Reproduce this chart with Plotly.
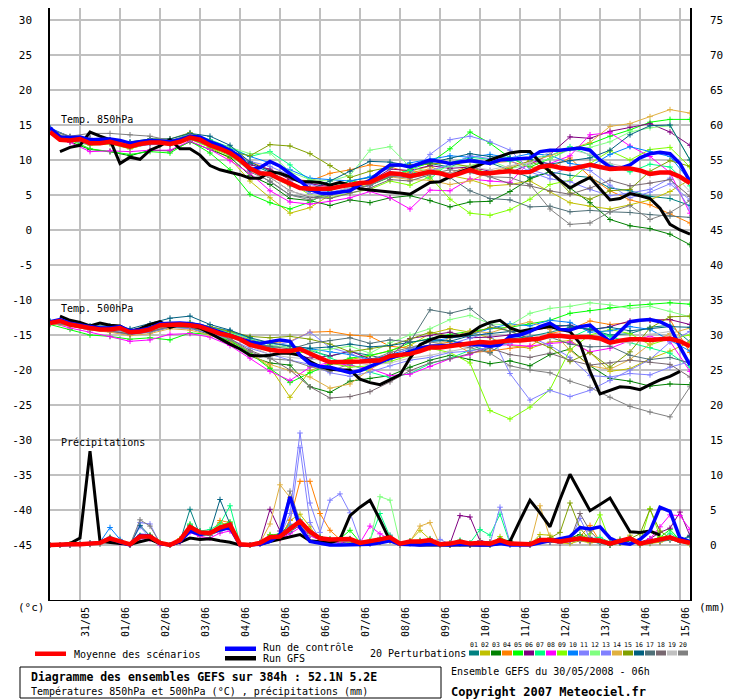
import plotly.graph_objects as go

# ---- time axis: 0..384h from 30/05 06h, 6h steps for main runs, 12h for perturbations
HOURS_6H = list(range(0, 385, 6))
HOURS_12H = list(range(0, 385, 12))
DAY_TICKS = list(range(18, 385, 24))
DAY_LABELS = ["31/05", "01/06", "02/06", "03/06", "04/06", "05/06", "06/06", "07/06",
              "08/06", "09/06", "10/06", "11/06", "12/06", "13/06", "14/06", "15/06"]

TEMP_TICKS = list(range(-45, 31, 5))
PRECIP_TICKS = list(range(0, 76, 5))

MEMBER_COLORS = ["#008080", "#c0c000", "#008000", "#ff8000", "#00ff00", "#800080", "#00ff80",
                 "#ff00ff", "#80ff00", "#0080ff", "#8080ff", "#80ff80", "#8080ff", "#e0b040",
                 "#80a000", "#006080", "#507078", "#786870", "#c0c0c0", "#808080"]

# ---- 850 hPa temperature (°C)
t850_mean = [14.0, 12.9, 12.8, 13.0, 12.4, 12.4, 12.6, 12.3, 11.9, 12.3,
             12.5, 12.5, 12.3, 12.6, 13.2, 12.9, 12.1, 11.6, 11.0, 10.0,
             8.8, 8.1, 8.0, 7.3, 6.7, 6.0, 5.9, 5.9, 5.9, 6.2,
             6.5, 6.7, 6.8, 7.4, 8.1, 8.0, 7.7, 8.0, 8.3, 8.1,
             7.7, 8.1, 8.6, 8.1, 8.1, 8.3, 8.4, 8.2, 8.3, 9.0,
             9.2, 8.9, 8.7, 9.0, 9.3, 9.0, 8.7, 8.8, 8.8, 8.5,
             8.0, 8.2, 8.2, 7.6, 6.7]
t850_control = [14.6, 13.3, 13.2, 13.3, 12.9, 12.9, 13.0, 12.8, 12.4, 12.6,
                12.8, 12.7, 12.6, 12.9, 13.4, 13.3, 12.6, 12.1, 11.4, 10.5,
                8.6, 8.9, 9.8, 9.1, 8.1, 7.0, 5.8, 5.3, 5.2, 5.4,
                5.6, 6.5, 7.1, 8.3, 9.3, 9.3, 9.0, 9.5, 10.0, 9.8,
                9.5, 9.7, 9.9, 9.7, 9.5, 10.0, 10.1, 10.1, 10.3, 11.2,
                11.4, 11.4, 11.5, 11.7, 11.4, 10.0, 9.0, 8.8, 9.3, 10.3,
                10.9, 11.1, 10.9, 9.5, 6.9]
t850_gfs = [None, 11.2, 11.8, 12.1, 14.0, 13.4, 12.9, 9.5, 10.4, 10.1,
            11.4, 12.0, 12.9, 11.6, 11.6, 10.7, 9.2, 8.6, 8.3, 7.9,
            7.4, 7.4, 8.3, 8.1, 7.6, 6.9, 6.9, 6.8, 6.4, 6.8,
            6.4, 5.9, 5.7, 5.6, 5.5, 5.3, 5.1, 6.0, 6.8, 6.9,
            7.6, 8.3, 8.8, 9.3, 10.0, 10.5, 11.0, 11.2, 11.2, 9.7,
            8.3, 7.1, 6.0, 6.8, 7.5, 5.9, 4.3, 4.5, 5.2, 4.9,
            4.5, 3.1, 0.8, 0.0, -0.6]
t850_members = [
    [14.3, 13.0, 12.8, 12.9, 12.3, 12.7, 12.6, 13.5, 12.4, 11.6, 9.5, 8.2, 6.4, 5.5, 5.8, 7.0, 7.5,
     9.2, 9.0, 9.5, 9.0, 10.2, 9.6, 8.5, 7.5, 8.3, 7.8, 7.5, 6.0, 5.6, 4.8, 4.5, 3.5],
    [14.1, 12.7, 12.3, 12.5, 11.6, 12.4, 12.4, 13.0, 11.8, 10.2, 7.0, 4.6, 2.4, 3.2, 5.0, 6.2, 6.5,
     7.6, 8.4, 9.1, 7.8, 7.2, 6.3, 6.5, 7.0, 5.5, 3.9, 3.4, 3.0, 3.6, 4.3, 5.5, 7.2],
    [14.0, 12.6, 11.5, 11.2, 10.6, 11.4, 11.3, 12.6, 11.5, 10.4, 7.8, 6.5, 4.5, 4.2, 3.5, 4.3, 3.9,
     4.6, 4.9, 4.2, 3.3, 4.0, 4.1, 5.5, 7.3, 8.3, 6.0, 3.9, 1.5, 0.6, 0.2, -0.6, -2.1],
    [14.2, 13.1, 12.7, 12.5, 12.0, 12.3, 12.5, 13.1, 12.3, 11.5, 9.8, 8.5, 7.3, 7.0, 8.1, 8.6, 9.3,
     9.0, 8.2, 8.7, 8.1, 9.2, 9.6, 9.8, 9.0, 8.9, 10.3, 7.6, 5.6, 4.3, 3.6, 2.3, 1.0],
    [14.0, 12.9, 11.6, 11.2, 10.8, 11.2, 11.0, 12.7, 11.0, 8.6, 5.1, 3.9, 3.0, 4.0, 5.5, 7.1, 6.4,
     7.5, 8.7, 9.6, 11.6, 14.0, 12.4, 10.3, 9.0, 10.2, 11.6, 12.3, 13.4, 14.3, 15.4, 15.8, 15.8],
    [14.5, 13.3, 13.1, 12.9, 12.2, 12.6, 12.5, 13.4, 12.4, 11.3, 9.3, 8.7, 7.2, 6.6, 6.2, 6.4, 6.9,
     8.7, 8.5, 9.2, 8.8, 9.0, 8.4, 8.2, 9.4, 10.8, 13.3, 13.1, 14.1, 14.7, 15.2, 14.0, 12.1],
    [14.4, 13.0, 12.8, 12.6, 12.4, 12.6, 12.6, 13.8, 12.9, 11.8, 10.5, 11.2, 9.3, 7.1, 6.6, 6.5, 6.7,
     7.9, 8.5, 7.3, 9.6, 10.4, 10.1, 9.8, 10.3, 10.6, 11.9, 10.7, 9.3, 8.3, 9.4, 9.0, 6.3],
    [14.3, 12.5, 11.2, 11.3, 11.2, 11.4, 11.4, 12.7, 11.5, 9.9, 8.1, 5.6, 4.0, 3.7, 4.1, 4.6, 5.5,
     4.6, 3.0, 5.7, 5.6, 7.3, 7.0, 6.8, 9.8, 9.5, 10.6, 13.6, 13.9, 12.0, 10.5, 8.2, 2.4],
    [14.0, 12.8, 12.1, 12.3, 11.6, 12.4, 12.1, 13.0, 11.8, 10.6, 8.6, 7.8, 6.8, 5.0, 4.6, 5.3, 5.8,
     7.0, 6.4, 7.6, 4.4, 2.4, 2.1, 2.9, 4.4, 6.5, 7.1, 9.5, 11.3, 10.0, 11.5, 11.8, 9.0],
    [14.6, 13.3, 13.0, 12.9, 12.5, 12.8, 12.7, 13.5, 12.8, 11.7, 10.5, 9.6, 8.6, 7.4, 7.2, 7.0, 7.6,
     8.9, 9.6, 10.1, 10.6, 10.4, 10.8, 10.3, 10.9, 10.7, 9.5, 9.1, 10.8, 11.9, 11.2, 10.5, 7.0],
    [14.2, 12.9, 12.5, 12.8, 12.3, 12.5, 12.3, 13.1, 12.1, 11.2, 9.8, 9.1, 7.8, 6.5, 5.9, 6.4, 6.6,
     8.3, 8.0, 10.8, 12.9, 13.4, 12.6, 11.4, 8.6, 7.8, 9.0, 8.5, 6.4, 4.6, 5.4, 6.6, 4.3],
    [14.3, 13.2, 12.9, 12.7, 12.3, 12.7, 12.6, 13.4, 12.5, 11.8, 10.9, 11.0, 8.3, 7.2, 7.0, 7.8, 11.4,
     11.9, 9.0, 8.3, 9.1, 9.2, 9.9, 8.8, 9.3, 10.2, 11.5, 11.8, 12.6, 14.0, 14.6, 14.9, 10.0],
    [14.1, 12.8, 12.2, 12.4, 11.8, 12.2, 12.2, 13.1, 12.0, 10.9, 9.0, 8.0, 6.9, 5.2, 5.4, 6.0, 6.3,
     7.9, 7.5, 8.5, 9.3, 10.6, 10.2, 10.0, 8.3, 7.3, 6.9, 5.8, 4.9, 5.3, 5.8, 7.4, 3.0],
    [14.3, 13.0, 12.6, 12.7, 12.1, 12.5, 12.4, 13.2, 12.1, 11.0, 8.8, 7.7, 6.3, 6.0, 6.1, 6.4, 7.0,
     7.6, 7.2, 7.1, 6.5, 7.0, 8.3, 9.0, 9.8, 10.6, 11.6, 12.5, 14.8, 15.2, 16.2, 17.2, 16.7],
    [14.4, 13.2, 12.9, 12.7, 12.4, 13.0, 13.0, 13.9, 12.7, 11.2, 10.6, 12.2, 12.0, 10.9, 9.2, 7.5, 8.4,
     9.0, 9.3, 9.4, 9.6, 9.0, 8.0, 8.8, 9.9, 8.3, 5.3, 4.4, 5.6, 5.8, 8.4, 9.9, 9.1],
    [14.5, 13.2, 12.9, 12.8, 12.6, 13.0, 13.0, 13.8, 13.4, 12.1, 9.7, 8.4, 6.5, 5.8, 7.0, 8.4, 9.8,
     9.7, 9.2, 9.6, 10.2, 10.9, 10.5, 10.2, 10.1, 9.4, 9.9, 10.3, 11.4, 13.6, 14.9, 15.0, 10.0],
    [14.2, 12.9, 12.6, 12.6, 12.1, 12.6, 12.4, 13.2, 12.2, 11.0, 8.6, 6.9, 5.0, 4.6, 5.1, 5.7, 6.4,
     7.6, 8.0, 8.3, 7.5, 5.6, 4.5, 4.3, 3.3, 3.4, 2.6, 2.8, 2.6, 2.5, 2.2, 2.0, 1.8],
    [14.1, 12.8, 12.4, 12.5, 11.9, 12.4, 12.2, 13.0, 12.0, 10.8, 8.6, 7.5, 5.6, 4.7, 4.5, 5.3, 6.0,
     7.2, 7.0, 7.9, 8.2, 8.4, 7.6, 6.6, 6.3, 5.6, 5.1, 6.0, 7.1, 6.3, 6.7, 7.2, 4.8],
    [14.2, 13.2, 12.9, 12.8, 12.3, 12.7, 12.6, 13.3, 12.2, 11.1, 8.9, 7.6, 5.5, 4.9, 5.2, 6.1, 6.8,
     8.0, 7.7, 8.6, 8.1, 9.0, 8.6, 9.2, 9.6, 11.2, 11.5, 10.8, 9.5, 8.9, 7.8, 8.4, 5.5],
    [14.4, 13.4, 13.8, 13.8, 13.6, 13.4, 12.8, 13.6, 12.3, 11.0, 8.3, 7.0, 5.0, 4.3, 4.9, 5.6, 6.4,
     7.7, 7.4, 8.0, 8.6, 8.2, 7.6, 7.5, 6.5, 3.0, 0.8, 1.0, 2.6, 3.5, 1.5, 2.5, 4.2],
]

# ---- 500 hPa temperature (°C)
t500_mean = [-13.3, -13.0, -13.5, -13.8, -14.0, -14.2, -14.2, -14.0, -14.6, -14.5,
             -14.2, -13.6, -13.5, -13.5, -13.6, -13.8, -14.3, -14.8, -15.1, -15.6,
             -16.4, -16.8, -17.1, -17.3, -17.3, -17.0, -17.7, -18.3, -18.9, -18.9,
             -18.8, -18.8, -18.7, -18.6, -18.0, -17.8, -17.7, -17.3, -16.8, -16.8,
             -16.6, -16.4, -16.2, -16.0, -16.1, -15.9, -15.8, -15.8, -15.7, -15.5,
             -15.1, -15.1, -15.3, -15.3, -15.3, -15.5, -16.1, -15.8, -15.6, -15.6,
             -15.7, -15.6, -15.5, -15.9, -16.6]
t500_control = [-13.1, -12.8, -13.3, -13.6, -13.8, -14.0, -14.0, -13.8, -14.4, -14.3,
                -14.0, -13.4, -13.3, -13.3, -13.4, -13.6, -14.1, -14.6, -15.0, -15.5,
                -16.0, -16.2, -16.0, -15.7, -15.9, -17.9, -19.1, -19.5, -19.6, -20.0,
                -20.4, -20.1, -19.5, -18.8, -18.3, -17.9, -17.4, -16.9, -16.6, -16.6,
                -16.5, -16.2, -16.4, -16.4, -16.6, -16.4, -15.2, -15.0, -14.5, -13.8,
                -13.3, -14.2, -14.3, -13.8, -13.6, -14.8, -15.9, -14.5, -13.1, -12.9,
                -12.8, -13.1, -13.8, -16.7, -19.3]
t500_gfs = [None, -12.3, -12.9, -13.2, -13.7, -13.3, -13.6, -13.7, -14.5, -14.1,
            -13.5, -13.1, -13.9, -13.5, -13.6, -14.0, -14.8, -15.5, -16.3, -17.0,
            -17.9, -18.0, -17.9, -17.6, -17.6, -17.9, -18.8, -19.5, -19.9, -20.0,
            -20.0, -21.3, -21.8, -22.1, -21.4, -20.7, -18.3, -16.4, -15.7, -15.2,
            -15.2, -15.1, -14.8, -13.8, -13.2, -12.9, -14.0, -14.5, -14.2, -14.0,
            -13.8, -14.2, -14.5, -16.2, -20.2, -23.4, -22.9, -22.4, -22.5, -22.8,
            -22.1, -21.4, -20.9, -20.2, None]
t500_members = [
    [-13.2, -13.4, -14.0, -14.3, -14.6, -14.0, -13.4, -13.3, -14.1, -14.8, -16.0, -16.8, -16.5, -17.2,
     -18.0, -17.4, -17.9, -18.6, -17.1, -15.9, -15.8, -16.4, -17.5, -15.6, -15.2, -14.6, -13.9, -14.2,
     -15.0, -14.8, -13.9, -13.6, -16.0],
    [-13.4, -13.7, -14.2, -14.4, -14.9, -14.5, -13.7, -13.9, -14.7, -15.7, -17.5, -19.6, -23.9, -20.1,
     -19.0, -18.5, -18.0, -17.2, -16.5, -14.8, -14.1, -14.6, -15.4, -16.5, -16.9, -16.0, -15.8, -17.5,
     -20.2, -19.8, -18.4, -17.3, -16.0],
    [-13.3, -13.6, -14.2, -14.5, -14.8, -14.6, -13.9, -14.0, -14.9, -15.9, -18.0, -19.0, -19.3, -22.4,
     -23.2, -21.6, -21.2, -20.8, -19.6, -18.6, -17.9, -18.5, -19.1, -18.7, -19.4, -17.8, -17.0, -19.4,
     -21.2, -21.6, -22.3, -22.0, -22.1],
    [-13.3, -13.5, -13.9, -14.1, -14.5, -14.1, -13.4, -13.4, -14.0, -14.6, -15.7, -16.1, -15.9, -14.6,
     -14.5, -15.0, -15.2, -16.6, -16.9, -16.5, -16.0, -17.5, -17.3, -16.9, -16.6, -14.8, -14.2, -13.0,
     -13.5, -13.2, -12.9, -12.8, -17.5],
    [-13.5, -14.2, -15.0, -15.2, -15.6, -15.4, -15.7, -14.7, -14.9, -15.8, -17.6, -19.8, -21.8, -20.4,
     -19.2, -18.3, -17.9, -17.3, -16.1, -15.5, -14.9, -14.5, -14.1, -13.9, -13.4, -12.9, -11.9, -11.5,
     -11.1, -10.8, -10.6, -10.4, -10.6],
    [-13.2, -13.4, -13.9, -14.0, -14.5, -14.1, -13.6, -13.5, -14.2, -15.1, -16.4, -17.0, -17.7, -18.3,
     -18.0, -17.3, -18.4, -18.1, -15.5, -15.1, -14.6, -15.4, -15.3, -15.0, -14.4, -13.9, -13.6, -14.3,
     -13.8, -13.0, -12.9, -12.8, -13.5],
    [-13.1, -13.3, -13.8, -14.0, -14.4, -14.0, -13.3, -13.3, -13.9, -14.6, -15.4, -16.8, -17.5, -16.9,
     -18.3, -19.2, -20.3, -21.1, -20.5, -19.1, -18.3, -17.2, -16.8, -16.0, -15.5, -15.2, -15.4, -14.1,
     -15.2, -16.1, -16.8, -17.6, -19.6],
    [-13.2, -14.0, -14.6, -15.2, -15.9, -15.7, -14.9, -14.8, -15.3, -16.5, -18.3, -20.2, -21.5, -19.6,
     -18.9, -19.3, -19.8, -20.8, -20.6, -19.5, -18.4, -17.8, -16.5, -16.4, -16.6, -16.2, -16.0, -17.4,
     -16.9, -15.8, -15.2, -15.9, -20.2],
    [-13.3, -13.5, -14.1, -14.2, -14.7, -14.3, -13.6, -13.7, -14.3, -15.2, -16.3, -17.1, -17.6, -17.4,
     -19.0, -19.6, -19.4, -18.8, -17.9, -16.9, -17.5, -19.0, -25.8, -27.0, -25.3, -22.8, -17.1, -15.0,
     -14.2, -14.8, -16.4, -15.5, -15.0],
    [-13.0, -13.3, -13.8, -13.9, -14.3, -13.9, -13.2, -13.2, -13.8, -14.4, -15.6, -16.2, -16.5, -17.0,
     -17.4, -17.8, -18.5, -17.8, -17.0, -15.9, -15.4, -15.0, -14.1, -13.4, -13.7, -12.9, -13.2, -14.6,
     -14.4, -13.8, -14.2, -15.8, -17.3],
    [-13.3, -13.6, -14.1, -14.3, -14.7, -14.3, -13.6, -13.7, -14.3, -15.0, -16.1, -16.6, -16.0, -14.6,
     -16.8, -17.6, -18.8, -18.1, -16.9, -16.5, -16.3, -15.5, -14.6, -20.5, -24.3, -22.9, -23.8, -22.9,
     -21.5, -20.0, -18.5, -16.0, -14.5],
    [-13.1, -13.3, -13.9, -14.1, -14.5, -14.1, -13.4, -13.5, -14.0, -14.7, -15.5, -16.4, -16.8, -17.3,
     -17.0, -16.6, -17.6, -16.1, -15.0, -14.1, -12.8, -12.2, -13.4, -13.6, -11.9, -11.2, -10.9, -10.4,
     -10.7, -11.2, -10.9, -11.6, -12.4],
    [-13.4, -13.7, -14.3, -14.5, -15.0, -14.6, -13.9, -14.1, -14.8, -15.6, -16.9, -17.8, -18.6, -19.2,
     -20.4, -20.9, -20.3, -19.4, -18.6, -18.2, -17.5, -17.3, -16.8, -16.2, -15.3, -16.5, -18.2, -20.8,
     -21.0, -20.5, -20.7, -19.6, -18.8],
    [-13.4, -13.7, -14.3, -14.6, -15.1, -14.8, -14.1, -14.3, -15.0, -16.0, -17.8, -19.2, -20.1, -21.0,
     -22.6, -22.0, -19.9, -18.4, -17.6, -16.9, -15.4, -14.4, -14.7, -13.8, -13.1, -14.2, -17.2, -19.4,
     -19.9, -18.5, -16.3, -14.8, -14.0],
    [-13.2, -13.4, -13.9, -14.0, -14.4, -14.0, -13.3, -13.2, -13.8, -14.5, -15.2, -15.4, -15.2, -15.6,
     -16.3, -17.4, -17.0, -16.5, -15.6, -14.6, -15.2, -14.9, -13.9, -14.4, -15.6, -16.8, -18.8, -17.5,
     -19.6, -17.4, -14.0, -12.4, -12.3],
    [-13.1, -13.2, -13.7, -13.7, -14.1, -13.4, -12.6, -12.3, -13.5, -14.3, -15.4, -16.1, -16.6, -16.9,
     -16.7, -16.3, -16.7, -16.5, -16.0, -15.6, -15.9, -15.1, -14.8, -14.5, -14.4, -13.6, -13.7, -14.2,
     -13.9, -14.4, -14.1, -13.8, -13.9],
    [-13.2, -13.4, -13.9, -14.1, -14.6, -14.2, -13.5, -13.6, -14.2, -15.0, -16.2, -16.6, -17.0, -16.2,
     -15.8, -15.4, -16.2, -15.7, -16.0, -11.4, -11.9, -11.2, -13.5, -14.5, -15.5, -15.3, -16.3, -16.7,
     -16.6, -17.9, -18.5, -18.2, -19.0],
    [-13.3, -13.6, -14.2, -14.4, -14.9, -14.5, -13.8, -13.9, -14.6, -15.5, -17.2, -18.3, -20.0, -22.4,
     -24.0, -23.8, -23.1, -21.7, -20.1, -19.0, -18.4, -17.6, -16.9, -17.8, -18.2, -17.6, -18.6, -19.3,
     -19.0, -18.6, -18.9, -19.2, -21.0],
    [-13.2, -13.5, -14.0, -14.2, -14.6, -14.2, -13.5, -13.6, -14.3, -15.2, -16.6, -17.8, -18.2, -18.5,
     -18.7, -18.8, -19.3, -19.0, -18.3, -17.9, -17.3, -16.8, -16.3, -16.0, -15.7, -15.5, -15.2, -15.4,
     -16.0, -16.1, -14.9, -14.5, -16.6],
    [-13.3, -13.5, -14.0, -14.1, -14.6, -14.2, -13.6, -13.7, -14.5, -15.6, -17.4, -18.4, -18.6, -19.5,
     -20.2, -19.1, -18.6, -17.5, -16.8, -16.0, -16.4, -16.8, -17.6, -19.4, -20.0, -20.4, -21.6, -22.5,
     -23.9, -25.2, -26.0, -26.7, -22.4],
]

# ---- 6h precipitation (mm, right axis)
precip_mean = [0, 0.1, 0.1, 0.1, 0.2, 0.3, 0.95, 0.5, 0.1, 1.2,
               1.2, 0.3, 0, 0.7, 2.6, 1.8, 1.7, 2.5, 2.9, 0.1,
               0, 0.3, 1.1, 1.2, 2.4, 3.4, 1.9, 0.95, 0.8, 0.85,
               0.85, 0.3, 0.5, 0.8, 1.1, 0.2, 0.5, 0.5, 0.7, 0.1,
               0.2, 0.5, 0.2, 0.3, 0.2, 0.7, 0.2, 0.1, 0.1, 0.7,
               0.7, 0.5, 0.7, 0.95, 0.7, 0.6, 0.2, 0.6, 0.95, 0.2,
               0.5, 0.7, 1.1, 0.6, 0.3]
precip_control = [0, 0, 0, 0.1, 0.2, 0.3, 1.0, 0.4, 0, 1.4,
                  1.3, 0.2, 0, 0.5, 2.0, 1.5, 1.8, 2.2, 2.5, 0,
                  0, 0.1, 0.5, 1.5, 6.9, 2.5, 0.5, 0.2, 0, 0,
                  0, 0, 0.1, 0.3, 0.6, 0.1, 0, 0, 0.1, 0,
                  0, 0.1, 0, 0, 0, 0.2, 0, 0, 0, 0.3,
                  0.6, 0.8, 1.2, 2.5, 2.3, 2.6, 1.0, 0.3, 0.1, 0.8,
                  2.0, 5.4, 4.8, 1.0, 0.5]
precip_gfs = [None, 0, 0.2, 1.0, 13.4, 0.5, 0.3, 0.2, 0.1, 0.5,
              0.8, 0.2, 0, 0.4, 1.0, 0.8, 0.9, 0.6, 0.4, 0,
              0, 0.1, 0.5, 0.8, 1.2, 1.5, 0.6, 0.5, 0.3, 0.8,
              4.2, 5.4, 6.4, 3.6, 0.6, 0.3, 0.1, 0, 0, 0,
              0, 0.1, 0.1, 0, 0, 0.2, 0.5, 3.5, 6.4, 4.6,
              2.6, 6.5, 10.1, 7.5, 4.9, 5.8, 6.7, 4.3, 1.9, 1.8,
              2.0, 1.4, None, None, None]
precip_members = [
    [0, 0, 0, 0.1, 0.2, 0.3, 0.8, 0.4, 0, 1.0, 1.1, 0.2, 0,
     0.5, 5.1, 1.4, 1.5, 2.3, 2.6, 0, 0, 0.2, 0.8, 1.0, 1.8, 2.9,
     1.5, 0.6, 0.4, 0.5, 0.6, 0.2, 0.3, 1.0, 1.4, 0, 0.3, 0.4, 0.9,
     0, 0, 0.3, 0, 0.2, 0, 0.5, 0, 0, 0, 0.6, 0.4, 0.3,
     0.5, 0.7, 0.5, 0.3, 0, 0.4, 0.6, 0, 0.4, 0.5, 0.7, 0.6, 1.4],
    [0, 0, 0.1, 0, 0.1, 0.2, 0.9, 0.6, 0, 1.3, 0.9, 0.1, 0,
     0.9, 2.1, 1.2, 1.5, 3.2, 2.8, 0, 0, 0.2, 1.5, 1.0, 3.5, 4.4,
     2.6, 0.5, 0.3, 0.6, 0.4, 0, 0.4, 0.6, 0.8, 0, 0.6, 2.1, 0.8,
     0, 0, 0.4, 0, 0.1, 0, 1.2, 0.2, 0, 0, 1.5, 1.4, 0.3,
     0.2, 0.6, 0.3, 0.5, 0, 0.3, 1.4, 0, 0.2, 0.4, 0.9, 0.5, 0],
    [0, 0, 0, 0.1, 0.2, 0.3, 1.1, 0.6, 0, 1.2, 1.4, 0.3, 0,
     0.6, 2.5, 2.0, 1.8, 2.4, 2.2, 0, 0, 0.3, 0.9, 1.4, 2.7, 3.1,
     1.5, 1.2, 0.6, 0.3, 0.5, 0.1, 0.2, 0.4, 0.6, 0, 0.2, 0.3, 0.4,
     0, 0, 0.2, 0, 0.3, 0.4, 0.8, 0.6, 0, 0, 0.8, 0.9, 0.7,
     1.0, 1.5, 0.8, 0.4, 0, 0.3, 0.6, 0.2, 0.4, 0.9, 1.2, 0.5, 0.2],
    [0, 0, 0.1, 0.1, 0.2, 0.4, 0.9, 0.4, 0, 1.2, 1.1, 0.2, 0,
     0.7, 2.4, 1.6, 1.5, 3.5, 3.2, 0, 0, 0.2, 1.0, 0.9, 3.6, 9.1,
     9.1, 4.5, 2.1, 0.8, 0.9, 0.2, 0.3, 0.4, 0.6, 0, 0.4, 0.3, 0.7,
     0, 0, 0.3, 0.2, 0.5, 0.3, 0.6, 0.1, 0, 0, 0.5, 0.9, 0.4,
     0.6, 1.2, 2.8, 0.5, 0.2, 0.5, 0.9, 0.3, 0.4, 0.5, 0.8, 0.4, 0.3],
    [0, 0, 0, 0.1, 0.1, 0.2, 0.8, 0.5, 0, 1.3, 1.2, 0.3, 0,
     0.6, 3.0, 1.9, 1.6, 2.7, 3.3, 0, 0, 0.3, 1.4, 1.6, 2.9, 3.0,
     1.8, 1.1, 0.7, 0.9, 2.1, 0.4, 0.6, 0.5, 0.7, 0, 0.4, 0.6, 0.5,
     0, 0.2, 0.4, 0, 0.2, 0.1, 0.9, 0.3, 0, 0, 0.7, 0.6, 0.5,
     0.8, 1.1, 0.6, 0.5, 0.3, 0.6, 0.8, 0.4, 0.6, 1.1, 2.2, 0.7, 0.4],
    [0, 0, 0, 0.1, 0.2, 0.3, 0.8, 0.4, 0, 1.1, 1.3, 0.3, 0,
     0.6, 2.8, 1.5, 1.7, 2.2, 2.4, 0, 0, 0.3, 5.1, 2.0, 2.3, 2.6,
     1.4, 0.8, 0.6, 0.7, 0.6, 0.3, 0.2, 0.5, 0.8, 0, 0.3, 0.5, 0.5,
     0, 0.2, 4.2, 4.0, 0.6, 0.4, 0.6, 0.2, 0, 0.1, 0.9, 0.6, 0.5,
     1.0, 0.6, 1.1, 0.4, 0.3, 0.8, 0.8, 0.4, 0.9, 1.8, 2.4, 4.7, 1.3],
    [0, 0, 0, 0.1, 0.2, 0.3, 1.0, 0.6, 0, 1.4, 1.3, 0.4, 0,
     0.8, 2.9, 2.0, 2.2, 3.0, 5.6, 0.2, 0, 0.4, 1.2, 1.4, 2.3, 3.6,
     1.9, 0.9, 0.8, 0.7, 0.8, 0.3, 0.7, 4.5, 1.2, 0, 0.5, 0.4, 0.6,
     0, 0.3, 0.7, 0.3, 2.2, 1.4, 4.4, 0.2, 0, 0.2, 0.8, 0.9, 0.7,
     0.9, 1.2, 0.9, 1.1, 0.4, 0.7, 1.0, 0.3, 0.6, 0.8, 1.7, 0.8, 0.4],
    [0, 0, 0, 0, 0.1, 0.2, 0.6, 0.3, 0, 0.9, 0.8, 0, 0,
     0.4, 1.8, 1.2, 1.0, 1.7, 2.0, 0, 0, 0.1, 0.7, 0.9, 1.6, 2.5,
     1.3, 0.7, 0.5, 0.4, 0.5, 0.3, 2.7, 1.6, 0.8, 0, 0.6, 0.5, 0.4,
     0, 0.1, 0.3, 0, 0.2, 0.1, 0.5, 0.1, 0, 0, 0.5, 0.4, 0.3,
     0.5, 0.8, 0.5, 0.6, 0.2, 0.5, 0.8, 0.2, 0.9, 2.6, 4.3, 4.2, 2.2],
    [0, 0, 0.1, 0.1, 0.2, 0.3, 1.0, 0.5, 0, 1.3, 1.4, 0.4, 0,
     0.8, 2.7, 1.9, 1.8, 2.6, 3.0, 0.1, 0, 0.3, 1.2, 1.5, 2.5, 3.2,
     2.0, 1.1, 0.9, 0.9, 0.8, 0.3, 0.5, 0.9, 1.0, 0, 0.6, 0.7, 0.8,
     0, 0.3, 0.6, 0.2, 0.4, 0.3, 0.8, 0.3, 0, 0.2, 0.9, 0.8, 0.6,
     0.8, 1.0, 1.6, 4.3, 0.5, 0.8, 1.0, 0.3, 5.2, 1.2, 1.1, 0.7, 0.4],
    [0, 0, 0.1, 0.2, 0.3, 0.4, 2.5, 0.8, 0, 1.1, 1.2, 0.3, 0,
     0.7, 2.4, 1.6, 1.7, 2.4, 2.6, 0, 0, 0.2, 0.9, 1.1, 2.0, 3.3,
     1.6, 0.9, 0.7, 0.6, 0.7, 0.2, 0.4, 0.6, 0.9, 0, 0.3, 0.4, 0.6,
     0, 0.1, 0.4, 0.1, 0.2, 0.1, 0.6, 0.2, 0, 0, 0.6, 0.5, 0.4,
     0.6, 0.8, 0.6, 0.5, 0.2, 0.6, 1.0, 0.2, 0.4, 0.6, 1.0, 0.5, 0.2],
    [0, 0, 0, 0.1, 0.2, 0.3, 0.9, 0.5, 0, 3.2, 3.0, 0.2, 0,
     0.6, 2.3, 1.7, 1.6, 2.3, 2.6, 0, 0, 0.2, 1.0, 1.2, 4.5, 16.0,
     6.0, 1.8, 6.4, 7.3, 4.6, 0.6, 0.4, 0.6, 0.8, 0, 0.3, 0.5, 0.6,
     0, 0.2, 0.5, 0.1, 0.3, 0.2, 5.4, 0.4, 0, 0.1, 0.7, 0.6, 0.5,
     0.5, 3.8, 0.9, 0.6, 0.2, 0.5, 0.9, 0.2, 0.4, 0.6, 1.0, 0.5, 0.3],
    [0, 0, 0, 0.1, 0.2, 0.3, 0.9, 0.5, 0, 1.3, 1.2, 0.3, 0,
     0.7, 2.6, 1.8, 1.8, 2.6, 3.0, 0, 0, 0.3, 1.1, 1.3, 2.3, 3.2,
     1.7, 0.9, 0.8, 0.9, 0.8, 0.3, 0.5, 6.9, 6.4, 0.2, 0.6, 0.6, 0.7,
     0, 0.2, 0.5, 0.2, 0.3, 0.2, 0.7, 0.3, 0, 0.1, 0.8, 0.7, 0.5,
     0.7, 0.9, 0.7, 0.6, 0.3, 0.7, 1.0, 0.3, 0.5, 0.7, 1.1, 0.6, 0.3],
    [0, 0, 0, 0.1, 0.2, 0.3, 0.8, 0.4, 0, 2.6, 1.0, 0.2, 0,
     0.5, 2.1, 1.5, 1.4, 2.1, 2.4, 0, 0, 0.2, 0.9, 1.0, 3.0, 13.9,
     3.2, 0.8, 0.6, 0.5, 0.6, 0.2, 0.4, 0.5, 0.7, 0, 0.4, 0.3, 0.6,
     0.8, 0.1, 0.4, 0.1, 0.2, 0.1, 0.6, 0.2, 0, 0, 0.5, 0.5, 0.4,
     0.6, 0.8, 0.6, 0.5, 0.2, 0.5, 0.8, 0.2, 0.4, 0.6, 0.9, 0.5, 0.2],
    [0, 0, 0, 0.1, 0.2, 0.3, 0.9, 0.5, 0, 1.2, 1.2, 0.3, 0,
     0.6, 2.6, 1.8, 1.6, 2.5, 2.9, 0, 0, 0.3, 3.0, 8.6, 6.8, 3.0,
     1.5, 0.8, 0.7, 0.6, 0.7, 0.2, 0.4, 0.6, 0.8, 0, 0.5, 2.7, 3.2,
     0, 0.1, 0.4, 0.1, 0.3, 0.2, 0.7, 0.2, 0, 0, 5.6, 1.0, 0.4,
     0.6, 0.8, 0.6, 0.5, 0.2, 0.6, 0.9, 0.2, 0.4, 0.6, 1.0, 0.5, 0.2],
    [0, 0, 0.1, 0.1, 0.2, 0.3, 0.8, 0.4, 0, 1.1, 1.2, 0.2, 0,
     0.6, 2.4, 1.7, 1.6, 2.4, 2.7, 0, 0, 0.2, 1.0, 1.2, 2.2, 3.1,
     1.6, 0.9, 0.7, 0.7, 0.7, 0.3, 0.4, 0.6, 0.9, 0, 0.4, 0.5, 0.6,
     0, 0.2, 0.4, 0.1, 0.2, 0.1, 0.6, 0.2, 0, 0.1, 0.7, 1.0, 1.8,
     6.0, 2.4, 0.7, 0.5, 0.3, 0.6, 0.9, 1.6, 5.1, 2.0, 1.0, 0.5, 0.3],
    [0, 0, 0, 0.1, 0.2, 0.3, 1.0, 0.5, 0, 2.8, 1.3, 0.3, 0,
     0.7, 2.5, 1.9, 1.8, 6.5, 3.0, 0.1, 0, 0.3, 1.1, 1.3, 2.4, 3.0,
     1.8, 1.0, 0.8, 0.8, 0.9, 0.4, 0.5, 0.7, 0.9, 0, 0.5, 0.5, 0.7,
     0, 0.2, 0.5, 0.2, 0.3, 0.2, 0.7, 0.2, 0, 0.1, 0.8, 0.7, 0.5,
     0.7, 1.0, 0.7, 0.6, 0.2, 0.6, 1.0, 0.3, 0.5, 0.7, 1.1, 0.6, 1.2],
    [0, 0, 0, 0.1, 0.1, 0.2, 0.7, 0.4, 0, 1.0, 1.0, 0.2, 0,
     0.5, 2.2, 1.5, 1.4, 2.0, 2.4, 0, 0, 0.2, 0.8, 1.0, 2.0, 2.8,
     1.5, 0.8, 0.6, 0.6, 0.6, 0.2, 0.3, 0.5, 0.7, 0, 0.3, 0.4, 0.5,
     0, 0.1, 0.3, 0.1, 0.2, 0.1, 0.5, 0.1, 0, 0, 0.5, 0.4, 0.3,
     0.5, 0.7, 0.5, 0.4, 0.1, 0.4, 0.7, 0.1, 0.3, 0.5, 0.8, 0.4, 0.2],
    [0, 0, 0, 0.1, 0.2, 0.3, 0.9, 0.5, 0, 1.2, 1.2, 0.3, 0,
     0.6, 2.5, 1.7, 1.7, 2.4, 2.8, 0, 0, 0.3, 1.0, 1.2, 2.3, 3.1,
     1.7, 0.9, 0.7, 0.8, 0.7, 0.3, 0.4, 0.6, 0.9, 0, 0.4, 0.5, 0.6,
     0, 0.2, 0.4, 0.1, 0.3, 0.2, 0.7, 0.2, 0, 0.1, 0.7, 0.6, 0.5,
     0.7, 4.5, 2.0, 0.5, 0.2, 0.5, 0.9, 0.2, 0.4, 0.6, 1.0, 0.5, 0.3],
    [0, 0, 0, 0.1, 0.2, 0.3, 0.8, 0.4, 0, 1.1, 1.1, 0.2, 0,
     0.6, 2.3, 1.6, 1.5, 2.2, 2.5, 0, 0, 0.2, 0.9, 1.1, 2.1, 2.9,
     1.5, 0.8, 0.6, 0.6, 0.6, 0.2, 0.3, 0.5, 0.8, 0, 0.3, 0.4, 0.6,
     0, 0.1, 0.3, 0.1, 0.2, 0.1, 0.6, 0.1, 0, 0, 0.6, 0.5, 0.4,
     0.6, 0.8, 0.6, 0.5, 0.2, 0.5, 0.8, 0.2, 0.4, 0.6, 0.9, 0.5, 0.3],
    [0, 0, 0, 0.1, 0.2, 0.3, 0.9, 0.5, 0, 3.6, 2.7, 0.3, 0,
     0.7, 2.6, 1.8, 1.7, 2.4, 2.7, 0, 0, 0.3, 1.1, 1.5, 7.7, 3.4,
     1.8, 1.0, 0.7, 0.8, 0.7, 0.3, 0.4, 0.6, 0.9, 0, 0.4, 0.5, 0.6,
     0, 0.2, 0.4, 0.1, 0.3, 0.2, 0.7, 0.2, 0, 0.1, 0.7, 0.6, 0.5,
     0.7, 0.9, 0.7, 0.6, 0.2, 0.6, 1.0, 0.2, 0.5, 0.7, 1.1, 0.6, 0.3],
]

FONT = "DejaVu Sans Mono"

# The page body keeps an 8px margin, so the figure starts at (8, 8) in the window.
# Pixel positions below are window pixels; the plot area spans x 50..690, y 8..600.
OFFSET = 8
PLOT_LEFT, PLOT_RIGHT, PLOT_TOP, PLOT_BOTTOM = 50, 690, 8, 600
# left axis runs -45..30 °C at 7 px per degree (30 at y=20), right axis is shifted by +45 (mm)
Y_RANGE = [30 - (PLOT_BOTTOM - 20) / 7, 30 + (20 - PLOT_TOP) / 7]
Y2_RANGE = [Y_RANGE[0] + 45, Y_RANGE[1] + 45]


def px(x):
    return (x - PLOT_LEFT) / (PLOT_RIGHT - PLOT_LEFT)


def py(y):
    return (PLOT_BOTTOM - y) / (PLOT_BOTTOM - PLOT_TOP)


fig = go.Figure()

for hours, members, axis in [(HOURS_12H, t850_members, "y"),
                             (HOURS_12H, t500_members, "y"),
                             (HOURS_6H, precip_members, "y2")]:
    for color, values in zip(MEMBER_COLORS, members):
        fig.add_trace(go.Scatter(
            x=hours, y=values, yaxis=axis, mode="lines+markers",
            line=dict(color=color, width=1),
            marker=dict(symbol="cross-thin", size=4, color=color, line=dict(color=color, width=1)),
            hoverinfo="skip"))

for gfs, control, mean, axis in [(t850_gfs, t850_control, t850_mean, "y"),
                                 (t500_gfs, t500_control, t500_mean, "y"),
                                 (precip_gfs, precip_control, precip_mean, "y2")]:
    fig.add_trace(go.Scatter(x=HOURS_6H, y=gfs, yaxis=axis, mode="lines",
                             line=dict(color="#000000", width=3), hoverinfo="skip"))
    fig.add_trace(go.Scatter(x=HOURS_6H, y=control, yaxis=axis, mode="lines",
                             line=dict(color="#0000ff", width=3.5), hoverinfo="skip"))
    fig.add_trace(go.Scatter(x=HOURS_6H, y=mean, yaxis=axis, mode="lines",
                             line=dict(color="#ff0000", width=4.5), hoverinfo="skip"))

shapes = [
    dict(type="rect", xref="paper", yref="paper", x0=px(35), x1=px(66), y0=py(656), y1=py(651.5),
         fillcolor="#ff0000", line=dict(width=0)),
    dict(type="rect", xref="paper", yref="paper", x0=px(225), x1=px(256), y0=py(651), y1=py(646.5),
         fillcolor="#0000ff", line=dict(width=0)),
    dict(type="rect", xref="paper", yref="paper", x0=px(225), x1=px(256), y0=py(660.5), y1=py(656),
         fillcolor="#000000", line=dict(width=0)),
    dict(type="rect", xref="paper", yref="paper", x0=px(20), x1=px(441), y0=py(698), y1=py(667),
         fillcolor="rgba(0,0,0,0)", line=dict(color="#000000", width=1)),
]

annotations = []


def label(text, x, y, size=10, xanchor="left"):
    annotations.append(dict(text=text, x=x, y=y, xref="paper", yref="paper", xanchor=xanchor,
                            yanchor="middle", showarrow=False,
                            font=dict(family=FONT, size=size, color="#000000")))


for i, color in enumerate(MEMBER_COLORS):
    x0 = 469 + 11 * i
    shapes.append(dict(type="rect", xref="paper", yref="paper", x0=px(x0), x1=px(x0 + 10),
                       y0=py(655.5), y1=py(650.5), fillcolor=color, line=dict(width=0)))
    label(f"{i + 1:02d}", px(x0 + 5), py(644.5), size=6.5, xanchor="center")

label("Temp. 850hPa", px(59), py(120))
label("Temp. 500hPa", px(59), py(308))
label("Précipitations", px(59), py(442))
label("(°c)", px(31), py(607), size=11, xanchor="center")
label("(mm)", px(712), py(607), size=11, xanchor="center")
label("Moyenne des scénarios", px(72), py(654))
label("Run de contrôle", px(261), py(647.5))
label("Run GFS", px(261), py(658.5))
label("20 Perturbations", px(368), py(653))
label("<b>Diagramme des ensembles GEFS sur 384h : 52.1N 5.2E</b>", px(29), py(677), size=11.5)
label("Températures 850hPa et 500hPa (°C) , précipitations (mm)", px(29), py(691))
label("Ensemble GEFS du 30/05/2008 - 06h", px(449), py(671))
label("<b>Copyright 2007 Meteociel.fr</b>", px(449), py(691.5), size=12)

fig.update_layout(
    width=740 - OFFSET, height=700 - OFFSET,
    margin=dict(l=PLOT_LEFT - OFFSET, r=740 - PLOT_RIGHT, t=PLOT_TOP - OFFSET,
                b=700 - PLOT_BOTTOM, pad=0),
    paper_bgcolor="#ffffff", plot_bgcolor="#ffffff",
    showlegend=False,
    font=dict(family=FONT, size=11, color="#000000"),
    shapes=shapes,
    annotations=annotations,
    xaxis=dict(range=[0, 384], tickmode="array", tickvals=DAY_TICKS, ticktext=DAY_LABELS,
               tickangle=-90, tickfont=dict(family=FONT, size=10), ticks="",
               ticklabelstandoff=2, ticklabelshift=6,
               showgrid=True, gridcolor="#c0c0c0", gridwidth=1.5, zeroline=False,
               showline=True, linecolor="#000000", linewidth=1, fixedrange=True),
    yaxis=dict(range=Y_RANGE, tickmode="array", tickvals=TEMP_TICKS,
               ticktext=[str(v) for v in TEMP_TICKS], ticks="", ticklabelstandoff=14,
               tickfont=dict(family=FONT, size=11),
               showgrid=True, gridcolor="#c0c0c0", gridwidth=1.5, zeroline=False,
               showline=True, linecolor="#000000", linewidth=1.5, fixedrange=True),
    yaxis2=dict(range=Y2_RANGE, overlaying="y", side="right", tickmode="array",
                tickvals=PRECIP_TICKS, ticktext=[str(v) for v in PRECIP_TICKS], ticks="",
                ticklabelstandoff=16, tickfont=dict(family=FONT, size=11),
                showgrid=False, zeroline=False,
                showline=True, linecolor="#000000", linewidth=1.5, fixedrange=True),
)

fig.write_html("out.html")
